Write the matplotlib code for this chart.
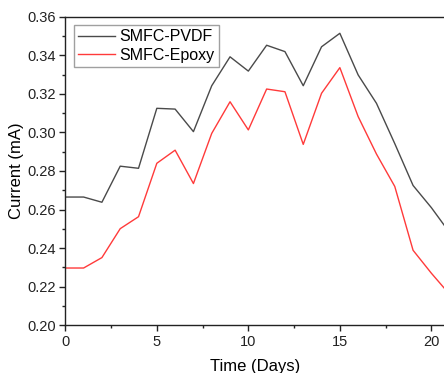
import matplotlib
matplotlib.use('Agg')
import matplotlib.pyplot as plt
from matplotlib.ticker import MultipleLocator

plt.rcParams['font.family'] = ['Liberation Sans', 'DejaVu Sans']

# Daily current readings (mA) for the two sediment microbial fuel cells
days = list(range(22))
pvdf = [0.2665, 0.2665, 0.2638, 0.2825, 0.2814, 0.3125, 0.3121, 0.3004,
        0.3242, 0.3392, 0.3318, 0.3452, 0.3419, 0.3242, 0.3444, 0.3514,
        0.3298, 0.3151, 0.2942, 0.2725, 0.2610, 0.2480]
epoxy = [0.2297, 0.2297, 0.2351, 0.2501, 0.2563, 0.2840, 0.2908, 0.2735,
         0.2995, 0.3159, 0.3013, 0.3225, 0.3211, 0.2938, 0.3203, 0.3336,
         0.3082, 0.2888, 0.2720, 0.2389, 0.2270, 0.2160]

fig = plt.figure(figsize=(4.44, 3.73), dpi=100)
ax = fig.add_axes([65.3 / 444, 1 - 325.3 / 373, 1 - 65.3 / 444, (325.3 - 16.7) / 373])

ax.plot(days, pvdf, color='#4a4a4a', lw=1.0, label='SMFC-PVDF')
ax.plot(days, epoxy, color='#ff3a3a', lw=1.0, label='SMFC-Epoxy')

ax.set_xlim(0, 20.69)
ax.set_ylim(0.20, 0.36)
ax.xaxis.set_major_locator(MultipleLocator(5))
ax.xaxis.set_minor_locator(MultipleLocator(2.5))
ax.yaxis.set_major_locator(MultipleLocator(0.02))
ax.yaxis.set_minor_locator(MultipleLocator(0.01))
ax.yaxis.set_major_formatter(matplotlib.ticker.FormatStrFormatter('%.2f'))

ax.spines['right'].set_visible(False)
for s in ['left', 'bottom', 'top']:
    ax.spines[s].set_linewidth(1.0)
    ax.spines[s].set_color('#222222')
ax.tick_params(which='major', direction='out', length=4, width=1.0,
               labelsize=10.5, colors='#222222', pad=3)
ax.tick_params(which='minor', direction='out', length=2.5, width=1.0,
               colors='#222222')

ax.set_xlabel('Time (Days)', fontsize=12, labelpad=7)
ax.set_ylabel('Current (mA)', fontsize=12, labelpad=2)

leg = ax.legend(loc='upper left', fontsize=11.5, frameon=True, fancybox=False,
                borderpad=0.25, handlelength=2.3, handletextpad=0.3,
                labelspacing=0.2, borderaxespad=0.55)
leg.get_frame().set_edgecolor('#888888')
leg.get_frame().set_linewidth(1.0)

fig.savefig('out.png', dpi=100)
